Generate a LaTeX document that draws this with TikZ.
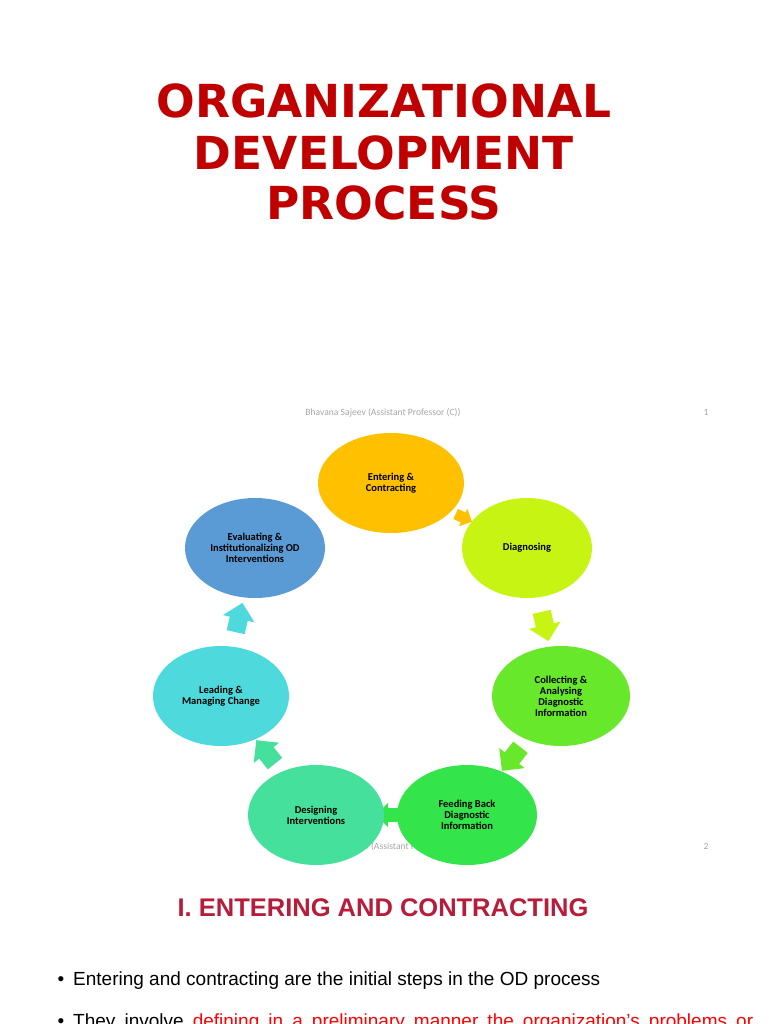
\documentclass[tikz,border=0pt]{standalone}
\usepackage{fontspec}
\setmainfont{Liberation Sans}
\newfontfamily\titlefont{DejaVu Sans}
\newfontfamily\smartfont{Carlito}
\usetikzlibrary{shapes.geometric, shapes.arrows, backgrounds}
\definecolor{titlered}{HTML}{C00000}
\definecolor{headred}{HTML}{B71C3A}
\definecolor{notegray}{HTML}{A6A6A6}
\definecolor{entcol}{HTML}{FFC000}
\definecolor{diacol}{HTML}{C7F413}
\definecolor{colcol}{HTML}{68E82A}
\definecolor{feecol}{HTML}{33E54A}
\definecolor{descol}{HTML}{45E09B}
\definecolor{leacol}{HTML}{4ED9DC}
\definecolor{evacol}{HTML}{5B9BD5}

\begin{document}
\begin{tikzpicture}[x=1pt, y=-1pt,
    stage/.style={ellipse, inner sep=0pt, minimum height=100pt, align=center,
      font=\smartfont\bfseries\fontsize{10.5}{11}\selectfont, text=black},
    cyc/.style={single arrow, draw=none, inner xsep=0pt, inner ysep=9pt,
      minimum height=30pt, single arrow head extend=7pt, sloped, allow upside down},
    note/.style={font=\smartfont\fontsize{9.6}{11}\selectfont, text=notegray}]
  \useasboundingbox (0,0) rectangle (768,1024);

  \node[anchor=base, text=titlered, font=\titlefont\bfseries\fontsize{45.5}{50}\selectfont] (title1) at (384,118) {ORGANIZATIONAL};
  \node[anchor=base, text=titlered, font=\titlefont\bfseries\fontsize{45.5}{50}\selectfont] (title2) at (384,170) {DEVELOPMENT};
  \node[anchor=base, text=titlered, font=\titlefont\bfseries\fontsize{45.5}{50}\selectfont] (title3) at (384,220) {PROCESS};

  \node[note, anchor=base] (hdr) at (383,415) {Bhavana Sajeev (Assistant Professor (C))};
  \node[note, anchor=base] (pg1) at (706,415) {1};
  \node[note, anchor=base] (pg2) at (706,849) {2};

  \node[stage, minimum width=146pt, fill=entcol] (ent) at (391,483) {Entering \&\\Contracting};
  \node[stage, minimum width=130pt, fill=diacol] (dia) at (527,548) {Diagnosing};
  \node[stage, minimum width=138pt, fill=colcol] (col) at (561,696) {Collecting \&\\Analysing\\Diagnostic\\Information};
  \node[stage, minimum width=140pt, fill=feecol] (fee) at (467,815) {Feeding Back\\Diagnostic\\Information};
  \node[stage, minimum width=136pt, fill=descol] (des) at (316,815) {Designing\\Interventions};
  \node[stage, minimum width=136pt, fill=leacol] (lea) at (221,696) {Leading \&\\Managing Change};
  \node[stage, minimum width=140pt, fill=evacol] (eva) at (255,548) {Evaluating \&\\Institutionalizing OD\\Interventions};

  \begin{pgfonlayer}{background}
    \node[note, anchor=base] (ftr) at (386,849) {Bhavana Sajeev (Assistant Professor (C))};
    \path (ent) -- node[cyc, fill=entcol, scale=0.6] (a1) {} (dia);
    \path (dia) -- node[cyc, fill=diacol] (a2) {} (col);
    \path (col) -- node[cyc, fill=colcol] (a3) {} (fee);
    \path (fee) -- node[cyc, fill=feecol, scale=0.75] (a4) {} (des);
    \path (des) -- node[cyc, fill=descol] (a5) {} (lea);
    \path (lea) -- node[cyc, fill=leacol] (a6) {} (eva);
  \end{pgfonlayer}

  \node[anchor=base, text=headred, font=\bfseries\fontsize{25.5}{30}\selectfont] (head) at (383,916) {I. ENTERING AND CONTRACTING};

  \node[anchor=base, font=\fontsize{19}{23}\selectfont] (b1) at (61,985) {•};
  \node[anchor=base west, inner sep=0pt, font=\fontsize{19}{23}\selectfont] (t1) at (73,985) {Entering and contracting are the initial steps in the OD process};
  \node[anchor=base, font=\fontsize{19}{23}\selectfont] (b2) at (61,1027) {•};
  \node[anchor=base west, inner sep=0pt, font=\fontsize{19}{23}\selectfont] (t2) at (73,1027) {\makebox[680pt][s]{They involve \textcolor{red}{defining in a preliminary manner the organization's problems or}}};
\end{tikzpicture}
\end{document}
